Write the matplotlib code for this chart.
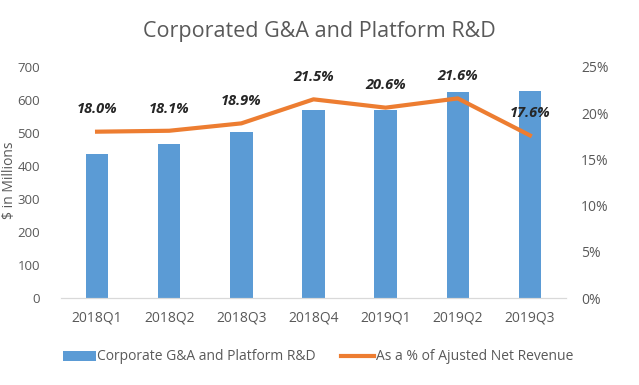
import numpy as np
import matplotlib.pyplot as plt
from matplotlib.ticker import FuncFormatter

quarters = ['2018Q1', '2018Q2', '2018Q3', '2018Q4', '2019Q1', '2019Q2', '2019Q3']
spend = [436, 467, 504, 570, 570, 623, 627]
pct_rev = [18.0, 18.1, 18.9, 21.5, 20.6, 21.6, 17.6]

plt.rcParams['font.family'] = ['Open Sans', 'DejaVu Sans']
grey = '#595959'

fig = plt.figure(figsize=(6.39, 3.85), dpi=100)
ax = fig.add_axes([61 / 639, 1 - 298 / 385, (566 - 61) / 639, (298 - 67) / 385])
x = np.arange(len(quarters))

ax.bar(x, spend, width=0.31, color='#5b9bd5', label='Corporate G&A and Platform R&D', zorder=2)
ax.set_ylim(0, 700)
ax.set_xlim(-0.5, len(quarters) - 0.5)
ax.set_yticks(range(0, 701, 100))
ax.set_xticks(x)
ax.set_xticklabels(quarters)

# axis title placed by hand, close to the left edge like the original
fig.text(10 / 639, 1 - 180 / 385, '$ in Millions', rotation=90, ha='center', va='center',
         color=grey, fontsize=10)

ax2 = ax.twinx()
ax2.plot(x, pct_rev, color='#ed7d31', lw=3, label='As a % of Ajusted Net Revenue', zorder=3)
ax2.set_ylim(0, 25)
ax2.set_yticks(range(0, 26, 5))
ax2.yaxis.set_major_formatter(FuncFormatter(lambda v, p: f'{v:.0f}%'))

for xi, v in zip(x, pct_rev):
    ax2.annotate(f'{v:.1f}%', (xi, v), xytext=(0, 16), textcoords='offset points',
                 ha='center', va='center', fontsize=10.5,
                 fontweight='bold', fontstyle='italic', color='#262626')

for a in (ax, ax2):
    for s in ('top', 'left', 'right'):
        a.spines[s].set_visible(False)
    a.spines['bottom'].set_color('#d9d9d9')
    a.tick_params(length=0, colors=grey, labelsize=10)
ax.tick_params(axis='x', pad=9)
ax.tick_params(axis='y', pad=15, labelsize=9.5)
ax2.tick_params(axis='y', pad=11)

fig.text(0.5, 1 - 32 / 385, 'Corporated G&A and Platform R&D', ha='center', va='center',
         fontsize=15.5, color=grey)

h1, l1 = ax.get_legend_handles_labels()
h2, l2 = ax2.get_legend_handles_labels()
fig.legend(h1 + h2, l1 + l2, loc='center left', bbox_to_anchor=(50 / 639, 1 - 357 / 385), ncol=2,
           frameon=False, fontsize=10, labelcolor=grey, handlelength=2.4,
           columnspacing=1.8, handletextpad=0.1)

fig.savefig('out.png', dpi=100)
